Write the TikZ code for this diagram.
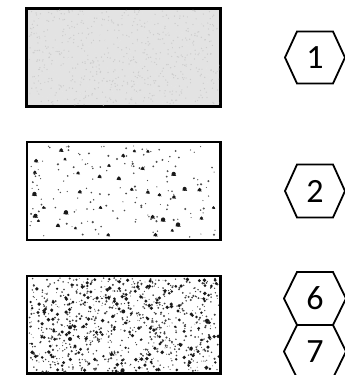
\documentclass[tikz,border=0pt]{standalone}
\usepackage{fontspec}
\setmainfont{Carlito}
\begin{document}
\begin{tikzpicture}[x=1pt,y=-1pt]
\useasboundingbox (0,0) rectangle (345,375);
\tikzset{
  box/.style={draw, line width=1.5pt, minimum width=193pt, minimum height=97pt, inner sep=0pt},
  hexnum/.style={font=\fontsize{34}{38}\selectfont, inner sep=0pt},
  hexline/.style={line width=1.8pt, line join=miter}
}
% boxes
\node[box, fill=gray!22, line width=2pt] (b1) at (123.5,57) {};
\node[box] (b2) at (123.5,191) {};
\node[box] (b3) at (123.5,324.5) {};
% texture of box 1
\begin{scope}
\clip ([shift={(2pt,-2pt)}]b1.south west) rectangle ([shift={(-2pt,2pt)}]b1.north east);
\pgfmathsetseed{3}
\foreach \i in {1,...,600}{
  \pgfmathsetmacro\xx{29+rnd*190}
  \pgfmathsetmacro\yy{10+rnd*95}
  \fill[gray!40] (\xx,\yy) circle (0.7);
}
\foreach \i in {1,...,350}{
  \pgfmathsetmacro\xx{29+rnd*190}
  \pgfmathsetmacro\yy{10+rnd*95}
  \fill[white!80!gray] (\xx,\yy) circle (0.8);
}
\end{scope}
% texture of box 2 (sparse)
\begin{scope}
\clip ([shift={(2pt,-2pt)}]b2.south west) rectangle ([shift={(-2pt,2pt)}]b2.north east);
\pgfmathsetseed{11}
\foreach \i in {1,...,160}{
  \pgfmathsetmacro\xx{30+rnd*187}
  \pgfmathsetmacro\yy{146+rnd*91}
  \pgfmathsetmacro\rr{0.5+rnd*0.7}
  \fill[black!70] (\xx,\yy) circle (\rr);
}
\foreach \i in {1,...,36}{
  \pgfmathsetmacro\xx{32+rnd*183}
  \pgfmathsetmacro\yy{148+rnd*87}
  \pgfmathsetmacro\rr{1.6+rnd*1.2}
  \fill[black!90] (\xx,\yy) -- ++(-\rr,1.1*\rr) -- ++(2*\rr,0.2*\rr) -- cycle;
  \fill[black!90] (\xx,\yy+0.5*\rr) circle (0.8*\rr);
}
\end{scope}
% texture of box 3 (dense)
\begin{scope}
\clip ([shift={(2pt,-2pt)}]b3.south west) rectangle ([shift={(-2pt,2pt)}]b3.north east);
\pgfmathsetseed{23}
\foreach \i in {1,...,800}{
  \pgfmathsetmacro\xx{29+rnd*190}
  \pgfmathsetmacro\yy{278+rnd*94}
  \pgfmathsetmacro\rr{0.4+rnd*0.8}
  \fill[black!75] (\xx,\yy) circle (\rr);
}
\foreach \i in {1,...,200}{
  \pgfmathsetmacro\xx{29+rnd*190}
  \pgfmathsetmacro\yy{278+rnd*94}
  \pgfmathsetmacro\rr{1.2+rnd*0.8}
  \fill[black!90] (\xx,\yy) circle (\rr);
}
\end{scope}
% redraw borders on top
\draw[line width=2pt] (b1.south west) rectangle (b1.north east);
\draw[line width=1.5pt] (b2.south west) rectangle (b2.north east);
\draw[line width=1.5pt] (b3.south west) rectangle (b3.north east);
% hexagons
\node[hexnum] (h1) at (315,57.5) {1};
\node[hexnum] (h2) at (315,191) {2};
\node[hexnum] (h6) at (315,298.5) {6};
\node[hexnum] (h7) at (315,351.5) {7};
\draw[hexline] (h1.center) ++(-30,0) -- ++(12,-26) -- ++(36,0) -- ++(12,26) -- ++(-12,26) -- ++(-36,0) -- cycle;
\draw[hexline] (h2.center) ++(-30,0) -- ++(12,-26.5) -- ++(36,0) -- ++(12,26.5) -- ++(-12,26.5) -- ++(-36,0) -- cycle;
\draw[hexline] (h6.center) ++(-31,0) -- ++(13,-26.5) -- ++(36,0) -- ++(13,26.5) -- ++(-13,26.5) -- ++(-36,0) -- cycle;
\draw[hexline] (h7.center) ++(-31,0) -- ++(13,-26.5) -- ++(36,0) -- ++(13,26.5) -- ++(-13,26.5) -- ++(-36,0) -- cycle;
\end{tikzpicture}
\end{document}
